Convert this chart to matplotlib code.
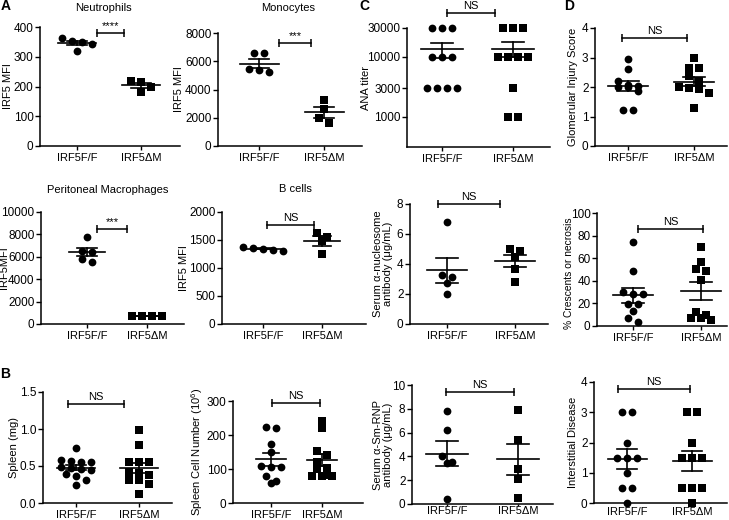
import matplotlib.pyplot as plt
import numpy as np

plt.rcParams['font.family'] = ['Liberation Sans', 'DejaVu Sans']
plt.rcParams['mathtext.fontset'] = 'custom'
plt.rcParams['mathtext.rm'] = 'Liberation Sans'
plt.rcParams['axes.linewidth'] = 1.1

W, H = 729, 520
groups = ['IRF5F/F', 'IRF5ΔM']

# A: IRF5 MFI by cell type
neut_ff = [350, 362, 320, 343, 352]
neut_dm = [218, 180, 216, 200]
mono_ff = [5250, 6550, 5450, 6550, 5350]
mono_dm = [3250, 2650, 2000, 1600]
perit_ff = [7750, 6400, 6550, 5550, 5800]
perit_dm = [680, 690, 690, 690]
bcell_ff = [1330, 1375, 1335, 1365, 1310]
bcell_dm = [1555, 1630, 1490, 1255]

# B: spleen
spleen_ff = [0.74, 0.58, 0.56, 0.57, 0.55, 0.47, 0.45, 0.48, 0.46, 0.37, 0.39, 0.31, 0.25]
spleen_dm = [0.98, 0.79, 0.56, 0.56, 0.56, 0.38, 0.40, 0.42, 0.31, 0.31, 0.26, 0.12]
cells_ff = [220, 225, 174, 150, 107, 108, 106, 78, 64, 58]
cells_dm = [242, 222, 153, 140, 120, 103, 100, 83, 80, 78, 80]

# C: autoantibodies
ana_ff = [30000, 30000, 30000, 10000, 10000, 10000, 3000, 3000, 3000, 3000]
ana_dm = [30000, 30000, 30000, 10000, 10000, 10000, 10000, 3000, 1000, 1000]
nuc_ff = [6.77, 3.12, 3.28, 2.72, 1.98]
nuc_dm = [5.01, 4.86, 4.5, 3.68, 2.83]
smrnp_ff = [7.79, 6.22, 4.0, 3.45, 3.56, 0.39]
smrnp_dm = [7.87, 5.39, 2.96, 2.13, 0.47]

# D: kidney pathology
glom_ff = [2.95, 2.62, 2.22, 2.0, 2.0, 2.05, 2.07, 1.85, 1.22, 1.22]
glom_dm = [3.0, 2.63, 2.63, 2.37, 2.2, 2.0, 1.98, 1.92, 1.8, 1.3]
cresc_ff = [73.9, 49.0, 27.9, 27.9, 30.3, 19.9, 19.9, 13.4, 7.4, 3.6]
cresc_dm = [70.3, 56.4, 49.0, 50.4, 40.7, 12.5, 9.5, 7.1, 7.1, 5.0]
inter_ff = [3, 3, 2, 1.5, 1.5, 1.5, 1, 0.5, 0.5, 0]
inter_dm = [3, 3, 2, 1.5, 1.5, 1.5, 0.5, 0.5, 0.5, 0]

# layout: axes rect in pixels (left, top, right, bottom), group centres in px,
# ylabel right edge in px, title (text, x, y), bracket (x1, x2, y in data units)
panels = [
    dict(ff=neut_ff, dm=neut_dm, rect=(40, 27, 180, 146), g=(77, 141), ylx=13,
         ylim=(0, 400), yticks=[0, 100, 200, 300, 400], ylabel='IRF5 MFI',
         title=('Neutrophils', 103, 8), sig='****', br=(0.31, 0.73, 380)),
    dict(ff=mono_ff, dm=mono_dm, rect=(218, 33, 362, 146), g=(259, 324), ylx=184,
         ylim=(0, 8000), yticks=[0, 2000, 4000, 6000, 8000], ylabel='IRF5 MFI',
         title=('Monocytes', 288, 8), sig='***', br=(0.31, 0.80, 7300)),
    dict(ff=perit_ff, dm=perit_dm, rect=(41, 212, 184, 324), g=(87, 147), ylx=9,
         ylim=(0, 10000), yticks=[0, 2000, 4000, 6000, 8000, 10000], ylabel='IRF5MFI',
         title=('Peritoneal Macrophages', 108, 190), sig='***', br=(0.17, 0.67, 8500)),
    dict(ff=bcell_ff, dm=bcell_dm, rect=(222, 212, 366, 324), g=(263, 322), ylx=189,
         ylim=(0, 2000), yticks=[0, 500, 1000, 1500, 2000], ylabel='IRF5 MFI',
         title=('B cells', 295, 189), sig='NS', br=(0.07, 0.86, 1770)),
    dict(ff=spleen_ff, dm=spleen_dm, rect=(43, 392, 172, 503), g=(76, 139), ylx=19,
         ylim=(0, 1.5), yticks=[0, 0.5, 1.0, 1.5], ylabel='Spleen (mg)',
         fmt='{:.1f}', sig='NS', br=(-0.13, 0.76, 1.34)),
    dict(ff=cells_ff, dm=cells_dm, rect=(233, 401, 363, 503), g=(271, 322), ylx=205,
         ylim=(0, 300), yticks=[0, 100, 200, 300], ylabel='Spleen Cell Number (10$^6$)',
         sig='NS', br=(0.02, 0.96, 294)),
    dict(ff=ana_ff, dm=ana_dm, rect=(407, 28, 550, 147), g=(442, 513), ylx=371,
         ylim=(316, 30000), yticks=[1000, 3000, 10000, 30000], ylabel='ANA titer',
         log=True, sig='NS', br=(0.07, 0.75, 53000)),
    dict(ff=nuc_ff, dm=nuc_dm, rect=(410, 204, 548, 324), g=(447, 515), ylx=393,
         ylim=(0, 8), yticks=[0, 2, 4, 6, 8], ylabel='Serum α-nucleosome\nantibody (μg/mL)',
         sig='NS', br=(-0.13, 0.78, 8.0)),
    dict(ff=smrnp_ff, dm=smrnp_dm, rect=(412, 385, 553, 504), g=(447, 518), ylx=393,
         ylim=(0, 10), yticks=[0, 2, 4, 6, 8, 10], ylabel='Serum α-Sm-RNP\nantibody (μg/mL)',
         sig='NS', br=(-0.01, 0.94, 9.42), xpad=0.3),
    dict(ff=glom_ff, dm=glom_dm, rect=(595, 28, 727, 146), g=(628, 694), ylx=578,
         ylim=(0, 4), yticks=[0, 1, 2, 3, 4], ylabel='Glomerular Injury Score',
         sig='NS', br=(-0.09, 0.89, 3.66)),
    dict(ff=cresc_ff, dm=cresc_dm, rect=(597, 213, 727, 326), g=(633, 701), ylx=574,
         yly=0.47, ylim=(0, 100), yticks=[0, 20, 40, 60, 80, 100],
         ylabel='% Crescents or necrosis', ylsize=7.4, sig='NS', br=(0.07, 1.03, 86)),
    dict(ff=inter_ff, dm=inter_dm, rect=(594, 382, 727, 503), g=(627, 692), ylx=578,
         ylim=(0, 4), yticks=[0, 1, 2, 3, 4], ylabel='Interstitial Disease',
         sig='NS', br=(-0.14, 0.97, 3.77), xpad=0.8),
]

letters = [('A', 6, 6), ('B', 5, 374), ('C', 364, 6), ('D', 569, 6)]


def swarm_x(ax, x0, vals, d=6, step=10):
    # rows of points closer than d px in y, each row centred on x0
    vals = np.asarray(vals, float)
    yp = ax.transData.transform(np.column_stack([np.full(len(vals), x0), vals]))[:, 1]
    order = np.argsort(-yp, kind='stable')
    rows, cur = [], [order[0]]
    for i in order[1:]:
        if yp[cur[0]] - yp[i] < d:
            cur.append(i)
        else:
            rows.append(cur)
            cur = [i]
    rows.append(cur)
    offs = np.zeros(len(vals))
    for row in rows:
        n = len(row)
        for k, i in enumerate(row):
            offs[i] = (k - (n - 1) / 2) * step
    x0p = ax.transData.transform((x0, vals[0]))[0]
    return ax.transData.inverted().transform(np.column_stack([x0p + offs, yp]))[:, 0]


fig = plt.figure(figsize=(W / 100, H / 100), dpi=100)

for p in panels:
    l, t, r, b = p['rect']
    ax = fig.add_axes([l / W, 1 - b / H, (r - l) / W, (b - t) / H])
    g0, g1 = p['g']
    ax.set_xlim((l - g0) / (g1 - g0), (r - g0) / (g1 - g0))
    if p.get('log'):
        ax.set_yscale('log')
        ax.minorticks_off()
    ax.set_ylim(*p['ylim'])
    ax.set_yticks(p['yticks'])
    fmt = p.get('fmt', '{:g}')
    ax.set_yticklabels([fmt.format(v) for v in p['yticks']])
    ax.set_xticks([0, 1])
    ax.set_xticklabels(groups, fontsize=8)
    ax.tick_params(axis='y', labelsize=8.5, length=3.5, width=1, pad=1.2)
    xpad = p.get('xpad', 2)
    ax.tick_params(axis='x', length=min(3, 1 + xpad), width=1, pad=xpad)
    for s in ('top', 'right'):
        ax.spines[s].set_visible(False)
    ax.set_ylabel(p['ylabel'], fontsize=p.get('ylsize', 8), linespacing=0.95)
    ax.yaxis.set_label_coords((p['ylx'] - l) / (r - l), p.get('yly', 0.5))

    for xi, vals, mk, ms in ((0, p['ff'], 'o', 5.6), (1, p['dm'], 's', 5.2)):
        xs = swarm_x(ax, xi, vals)
        ax.plot(xs, vals, mk, color='black', ms=ms, mew=0, clip_on=False, zorder=3)
        m = np.mean(vals)
        s = np.std(vals, ddof=1) / np.sqrt(len(vals))
        ax.plot([xi - 0.3, xi + 0.3], [m, m], color='black', lw=1.2, zorder=4)
        ax.plot([xi, xi], [m - s, m + s], color='black', lw=1.2, zorder=4)
        for e in (m - s, m + s):
            ax.plot([xi - 0.16, xi + 0.16], [e, e], color='black', lw=1.2, zorder=4)

    x1, x2, yb = p['br']
    ax.plot([x1, x2], [yb, yb], color='black', lw=1.1, marker='|', ms=6, mew=1.1,
            clip_on=False)
    ax.annotate(p['sig'], ((x1 + x2) / 2, yb), xytext=(0, 1.5), textcoords='offset points',
                ha='center', va='bottom', fontsize=8, annotation_clip=False)

    if 'title' in p:
        txt, tx, ty = p['title']
        fig.text(tx / W, 1 - ty / H, txt, ha='center', va='center', fontsize=8)

for txt, lx, ly in letters:
    fig.text(lx / W, 1 - ly / H, txt, ha='center', va='center', fontsize=10, fontweight='bold')

fig.savefig('out.png', dpi=100)
